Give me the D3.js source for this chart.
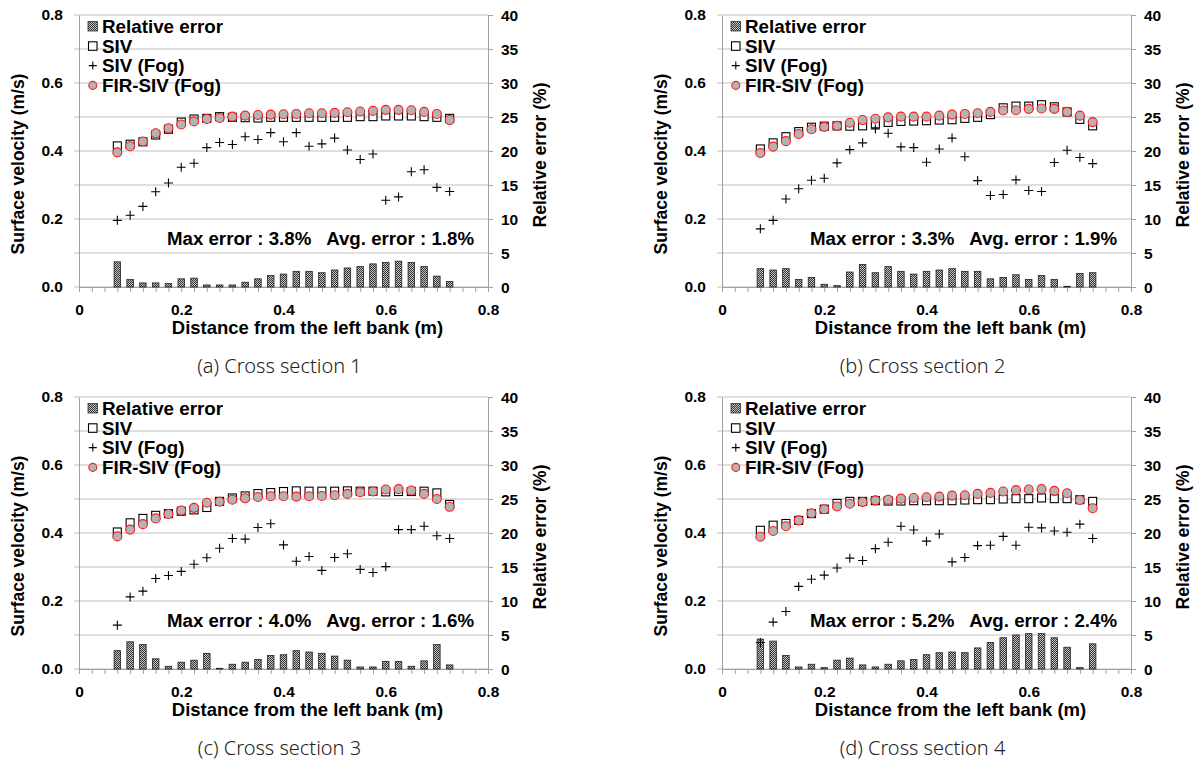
<!DOCTYPE html>
<html>
<head>
<meta charset="utf-8">
<script src="https://cdn.jsdelivr.net/npm/d3@7"></script>
<style>
body { margin: 0; background: #fff; }
svg { display: block; }
.tick text { font-family: "Liberation Sans", Arial, sans-serif; font-weight: bold; font-size: 15.5px; fill: #000; }
.ttl { font-family: "Liberation Sans", Arial, sans-serif; font-weight: bold; font-size: 17.5px; fill: #000; }
.xttl { font-family: "Liberation Sans", Arial, sans-serif; font-weight: bold; font-size: 18.5px; fill: #000; }
.leg { font-family: "Liberation Sans", Arial, sans-serif; font-weight: bold; font-size: 18.8px; fill: #000; }
.note { font-family: "Liberation Sans", Arial, sans-serif; font-weight: bold; font-size: 18.7px; fill: #000; white-space: pre; }
.cap { font-family: "Noto Sans", "Open Sans", sans-serif; font-weight: 300; font-size: 20px; fill: #222; }
</style>
</head>
<body>
<svg id="chart" width="1200" height="762"></svg>
<script>
// distance from the left bank (m)
var dist = [0.075, 0.1, 0.125, 0.15, 0.175, 0.2, 0.225, 0.25, 0.275, 0.3, 0.325, 0.35, 0.375, 0.4,
    0.425, 0.45, 0.475, 0.5, 0.525, 0.55, 0.575, 0.6, 0.625, 0.65, 0.675, 0.7, 0.725];

var velTicks = [0, 0.2, 0.4, 0.6, 0.8];
var errTicks = [0, 5, 10, 15, 20, 25, 30, 35, 40];
var distTicks = [0, 0.2, 0.4, 0.6, 0.8];
var legendNames = ["Relative error", "SIV", "SIV (Fog)", "FIR-SIV (Fog)"];

// cross section 1
var siv1 = [0.415, 0.420, 0.427, 0.447, 0.464, 0.485, 0.494, 0.496, 0.501, 0.499, 0.498, 0.497, 0.499, 0.499,
    0.499, 0.499, 0.499, 0.499, 0.499, 0.501, 0.501, 0.503, 0.503, 0.503, 0.501, 0.499, 0.496];
var fog1 = [0.196, 0.211, 0.237, 0.280, 0.306, 0.352, 0.364, 0.410, 0.425, 0.419, 0.442, 0.434, 0.454, 0.427,
    0.454, 0.414, 0.421, 0.438, 0.403, 0.375, 0.391, 0.255, 0.265, 0.339, 0.345, 0.293, 0.281];
var fir1 = [0.396, 0.414, 0.428, 0.452, 0.467, 0.478, 0.487, 0.494, 0.497, 0.501, 0.504, 0.506, 0.507, 0.508,
    0.509, 0.511, 0.511, 0.512, 0.514, 0.516, 0.518, 0.521, 0.521, 0.520, 0.515, 0.509, 0.491];
var err1 = [3.7, 1.1, 0.6, 0.6, 0.5, 1.2, 1.3, 0.3, 0.3, 0.3, 0.7, 1.2, 1.7, 1.9,
    2.3, 2.3, 2.1, 2.5, 2.8, 3.0, 3.4, 3.6, 3.8, 3.6, 3.0, 1.6, 0.8];

// cross section 2
var siv2 = [0.406, 0.424, 0.442, 0.457, 0.470, 0.473, 0.474, 0.473, 0.474, 0.480, 0.484, 0.487, 0.488, 0.489,
    0.491, 0.492, 0.496, 0.499, 0.507, 0.527, 0.532, 0.532, 0.536, 0.530, 0.515, 0.493, 0.474];
var fog2 = [0.171, 0.196, 0.259, 0.289, 0.314, 0.320, 0.365, 0.404, 0.424, 0.465, 0.452, 0.412, 0.410, 0.367,
    0.406, 0.438, 0.383, 0.313, 0.269, 0.272, 0.315, 0.284, 0.281, 0.366, 0.402, 0.381, 0.363];
var fir2 = [0.394, 0.413, 0.429, 0.450, 0.464, 0.471, 0.474, 0.483, 0.491, 0.495, 0.499, 0.501, 0.501, 0.501,
    0.504, 0.507, 0.509, 0.511, 0.515, 0.519, 0.520, 0.524, 0.525, 0.524, 0.515, 0.504, 0.485];
var err2 = [2.7, 2.5, 2.7, 1.1, 1.4, 0.4, 0.2, 2.2, 3.3, 2.1, 3.0, 2.3, 1.9, 2.3,
    2.5, 2.7, 2.3, 2.3, 1.2, 1.4, 1.8, 1.1, 1.7, 1.1, 0.1, 2.0, 2.1];

// cross section 3
var siv3 = [0.403, 0.430, 0.443, 0.452, 0.457, 0.464, 0.468, 0.475, 0.493, 0.503, 0.509, 0.516, 0.519, 0.522,
    0.524, 0.523, 0.523, 0.523, 0.524, 0.523, 0.523, 0.521, 0.522, 0.522, 0.523, 0.518, 0.484];
var fog3 = [0.129, 0.212, 0.229, 0.266, 0.275, 0.287, 0.308, 0.327, 0.355, 0.384, 0.382, 0.416, 0.427, 0.365,
    0.317, 0.331, 0.290, 0.328, 0.339, 0.293, 0.284, 0.301, 0.410, 0.410, 0.420, 0.392, 0.384];
var fir3 = [0.390, 0.410, 0.426, 0.443, 0.456, 0.466, 0.474, 0.489, 0.492, 0.498, 0.502, 0.506, 0.508, 0.508,
    0.507, 0.508, 0.509, 0.511, 0.515, 0.520, 0.522, 0.528, 0.529, 0.525, 0.515, 0.500, 0.477];
var err3 = [2.7, 4.0, 3.6, 1.5, 0.4, 1.0, 1.3, 2.3, 0.1, 0.7, 1.0, 1.4, 2.0, 2.1,
    2.7, 2.5, 2.3, 1.9, 1.3, 0.3, 0.3, 1.1, 1.1, 0.4, 1.2, 3.6, 0.6];

// cross section 4
var siv4 = [0.408, 0.423, 0.428, 0.437, 0.457, 0.470, 0.487, 0.493, 0.493, 0.495, 0.494, 0.494, 0.495, 0.495,
    0.495, 0.495, 0.497, 0.498, 0.498, 0.500, 0.501, 0.501, 0.503, 0.501, 0.501, 0.498, 0.493];
var fog4 = [0.078, 0.138, 0.169, 0.243, 0.264, 0.276, 0.297, 0.326, 0.319, 0.354, 0.373, 0.420, 0.409, 0.376,
    0.397, 0.315, 0.328, 0.363, 0.364, 0.390, 0.364, 0.417, 0.415, 0.406, 0.402, 0.426, 0.384];
var fir4 = [0.389, 0.406, 0.420, 0.437, 0.458, 0.470, 0.478, 0.486, 0.491, 0.496, 0.498, 0.501, 0.503, 0.505,
    0.507, 0.510, 0.511, 0.515, 0.518, 0.522, 0.526, 0.528, 0.529, 0.524, 0.517, 0.497, 0.473];
var err4 = [4.4, 4.1, 2.0, 0.3, 0.7, 0.2, 1.3, 1.6, 0.6, 0.3, 0.7, 1.2, 1.4, 2.1,
    2.4, 2.5, 2.4, 3.1, 3.9, 4.6, 5.0, 5.2, 5.2, 4.6, 3.2, 0.2, 3.7];

var captions = ["(a) Cross section 1", "(b) Cross section 2", "(c) Cross section 3", "(d) Cross section 4"];
var maxErr = ["3.8%", "3.3%", "4.0%", "5.2%"];
var avgErr = ["1.8%", "1.9%", "1.6%", "2.4%"];

var panels = [
    {left: 79, top: 15, siv: siv1, fog: fog1, fir: fir1, err: err1},
    {left: 722, top: 15, siv: siv2, fog: fog2, fir: fir2, err: err2},
    {left: 79, top: 397, siv: siv3, fog: fog3, fir: fir3, err: err3},
    {left: 722, top: 397, siv: siv4, fog: fog4, fir: fir4, err: err4}
];

var W = 409, H = 272;
var svg = d3.select("#chart");

// hatched fill for the error bars
var defs = svg.append("defs");
var pat = defs.append("pattern")
    .attr("id", "hatch")
    .attr("width", 2).attr("height", 2)
    .attr("patternUnits", "userSpaceOnUse");
pat.append("rect").attr("width", 2).attr("height", 2).attr("fill", "#c4c4c4");
pat.append("rect").attr("width", 1).attr("height", 1).attr("fill", "#333");
pat.append("rect").attr("x", 1).attr("y", 1).attr("width", 1).attr("height", 1).attr("fill", "#333");

var gridColor = "#d4d4d4", axisColor = "#a0a0a0";

function plusPath(cx, cy, s) {
    return "M" + (cx - s) + "," + cy + "H" + (cx + s) + "M" + cx + "," + (cy - s) + "V" + (cy + s);
}

panels.forEach(function (p, idx) {
    var g = svg.append("g").attr("transform", "translate(" + p.left + "," + p.top + ")");

    var x = d3.scaleLinear().domain([0, 0.8]).range([0, W]);
    var y = d3.scaleLinear().domain([0, 0.8]).range([H, 0]);
    var y2 = d3.scaleLinear().domain([0, 40]).range([H, 0]);

    // gridlines every 5 %
    g.append("g").selectAll("line")
        .data(errTicks)
        .enter().append("line")
        .attr("x1", -5).attr("x2", W)
        .attr("y1", d => y2(d)).attr("y2", d => y2(d))
        .attr("stroke", gridColor).attr("stroke-width", 1.3);

    // left axis
    var yAxis = g.append("g")
        .call(d3.axisLeft(y).tickValues(velTicks).tickFormat(d3.format(".1f")).tickSize(0).tickPadding(16));
    yAxis.select(".domain").attr("stroke", axisColor);

    // right axis
    var y2Axis = g.append("g")
        .attr("transform", "translate(" + W + ",0)")
        .call(d3.axisRight(y2).tickValues(errTicks).tickSize(5).tickPadding(8));
    y2Axis.select(".domain").attr("stroke", axisColor);
    y2Axis.selectAll(".tick line").attr("stroke", axisColor);
    y2Axis.selectAll(".tick text").attr("dy", "0.35em");

    // bottom axis with minor ticks every 0.025
    var xMinor = g.append("g")
        .attr("transform", "translate(0," + H + ")")
        .call(d3.axisBottom(x).tickValues(d3.range(0, 33).map(i => i * 0.025)).tickSize(5).tickFormat(""));
    xMinor.select(".domain").attr("stroke", axisColor);
    xMinor.selectAll(".tick line").attr("stroke", axisColor);

    var xAxis = g.append("g")
        .attr("transform", "translate(0," + H + ")")
        .call(d3.axisBottom(x).tickValues(distTicks).tickSize(0).tickPadding(17).tickFormat(d => d === 0 ? "0" : d3.format(".1f")(d)));
    xAxis.select(".domain").remove();

    // titles
    g.append("text").attr("class", "ttl")
        .attr("text-anchor", "middle")
        .attr("transform", "translate(" + (-55) + "," + (H / 2 + 13) + ") rotate(-90)")
        .text("Surface velocity (m/s)");
    g.append("text").attr("class", "ttl")
        .attr("text-anchor", "middle")
        .attr("transform", "translate(" + (W + 58) + "," + (H / 2 + 4) + ") rotate(-90)")
        .text("Relative error (%)");
    g.append("text").attr("class", "xttl")
        .attr("text-anchor", "middle")
        .attr("x", W / 2 + 24).attr("y", H + 47)
        .text("Distance from the left bank (m)");
    g.append("text").attr("class", "cap")
        .attr("text-anchor", "middle")
        .attr("x", W / 2 - 4).attr("y", H + 86)
        .text(captions[idx]);

    // relative error bars
    var bw = 6.5;
    g.append("g").selectAll("rect")
        .data(p.err)
        .enter().append("rect")
        .attr("x", (d, i) => x(dist[i]) - bw / 2)
        .attr("y", d => y2(d))
        .attr("width", bw)
        .attr("height", d => H - y2(d))
        .attr("fill", "url(#hatch)")
        .attr("stroke", "#222")
        .attr("stroke-width", 0.8);

    // annotation
    g.append("text").attr("class", "note")
        .attr("text-anchor", "end")
        .attr("x", W - 14).attr("y", y(0.123))
        .text("Max error : " + maxErr[idx] + "   Avg. error : " + avgErr[idx]);

    // SIV squares
    var s = 8;
    g.append("g").selectAll("rect")
        .data(p.siv)
        .enter().append("rect")
        .attr("x", (d, i) => x(dist[i]) - s / 2)
        .attr("y", d => y(d) - s / 2)
        .attr("width", s).attr("height", s)
        .attr("fill", "#fff")
        .attr("stroke", "#000")
        .attr("stroke-width", 1.1);

    // SIV (Fog) pluses
    g.append("g").selectAll("path")
        .data(p.fog)
        .enter().append("path")
        .attr("d", (d, i) => plusPath(x(dist[i]), y(d), 4.5))
        .attr("stroke", "#000")
        .attr("stroke-width", 1.1)
        .attr("fill", "none");

    // FIR-SIV (Fog) circles
    g.append("g").selectAll("circle")
        .data(p.fir)
        .enter().append("circle")
        .attr("cx", (d, i) => x(dist[i]))
        .attr("cy", d => y(d))
        .attr("r", 4.5)
        .attr("fill", "#b3b3b3")
        .attr("stroke", "#ff1a1a")
        .attr("stroke-width", 1.1);

    // legend
    var leg = g.append("g").attr("transform", "translate(9,11)");
    var rows = leg.selectAll("g")
        .data(legendNames)
        .enter().append("g")
        .attr("transform", (d, i) => "translate(0," + i * 19.8 + ")");
    rows.append("text").attr("class", "leg")
        .attr("x", 14).attr("y", 6.8)
        .text(d => d);
    rows.each(function (d, i) {
        var r = d3.select(this);
        if (i === 0) {
            r.append("rect").attr("x", 0).attr("y", -4.5).attr("width", 9.5).attr("height", 9.5)
                .attr("fill", "url(#hatch)").attr("stroke", "#333").attr("stroke-width", 0.8);
        } else if (i === 1) {
            r.append("rect").attr("x", 0.5).attr("y", -4).attr("width", 8.5).attr("height", 8.5)
                .attr("fill", "#fff").attr("stroke", "#000").attr("stroke-width", 1.1);
        } else if (i === 2) {
            r.append("path").attr("d", plusPath(4.8, 0, 4)).attr("stroke", "#000").attr("stroke-width", 1.1);
        } else {
            r.append("circle").attr("cx", 4.8).attr("cy", 0).attr("r", 4)
                .attr("fill", "#b3b3b3").attr("stroke", "#ff1a1a").attr("stroke-width", 1.1);
        }
    });
});
</script>
</body>
</html>
